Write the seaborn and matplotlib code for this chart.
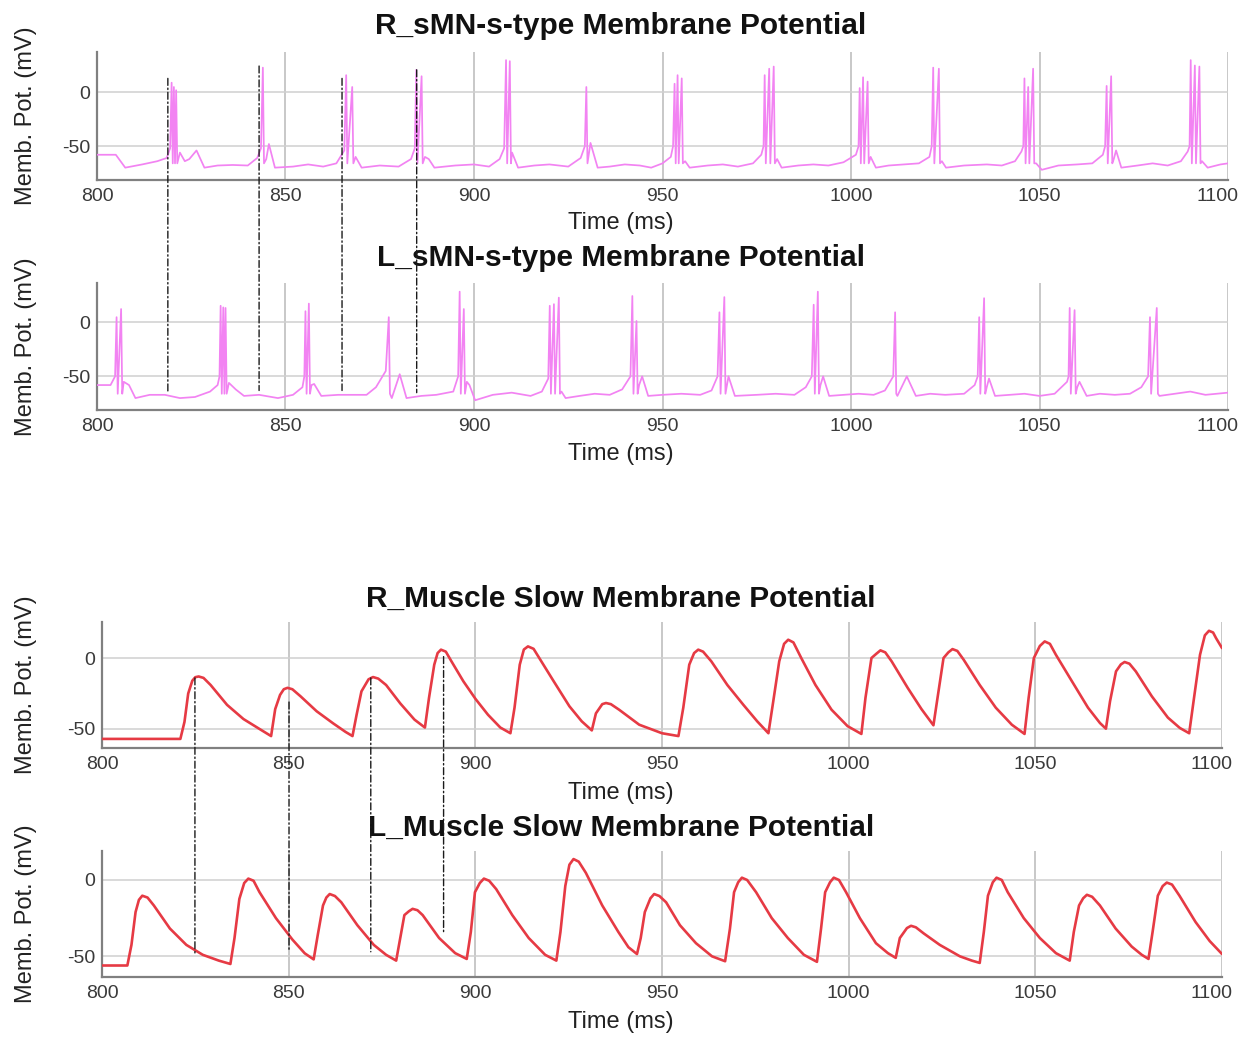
import matplotlib
matplotlib.use("Agg")
import matplotlib.pyplot as plt
from matplotlib.patches import ConnectionPatch
import pandas as pd
import seaborn as sns

# ---------------- data ----------------
TIME_TICKS = [800, 850, 900, 950, 1000, 1050, 1100]
VOLT_TICKS = [-50, 0]

TITLES = ["R_sMN-s-type Membrane Potential", "L_sMN-s-type Membrane Potential",
          "R_Muscle Slow Membrane Potential", "L_Muscle Slow Membrane Potential"]
X_LABEL = "Time (ms)"
Y_LABEL = "Memb. Pot. (mV)"

# motor neuron: sub-threshold trace (time, mV) and spike peaks
R_SMN_BASE_T = [800, 805, 807.5, 812, 816, 818.5, 819.4,
                822.0, 823.3, 824.5, 826.4, 828.5, 832, 836, 840, 842.5, 843.5,
                844.9, 845.6, 847.2, 852, 856, 860, 863.5, 865.6,
                868.6, 870.2, 875, 880, 883.3, 884.3,
                887.0, 888.0, 889.5, 895, 900, 904, 906.8, 908.0,
                910.1, 911.7, 916, 920, 925, 928.3, 929.4,
                930.9, 932.8, 936, 940, 944, 947, 950, 952.2, 952.8,
                956.0, 957.2, 962, 966, 970, 974, 976.2, 976.8,
                980.4, 981.6, 986, 990, 994, 998, 1001.3, 1002.0,
                1005.2, 1006.6, 1010, 1014, 1018, 1020.8, 1021.4,
                1024.1, 1025.2, 1030, 1036, 1040, 1043.5, 1045.2, 1045.7,
                1049.1, 1050.6, 1055, 1060, 1064, 1066.8, 1067.4,
                1069.7, 1070.3, 1071.7, 1076, 1080, 1084, 1087.5, 1089.3, 1089.8,
                1093.1, 1094.6, 1098, 1100]
R_SMN_BASE_V = [-58, -58, -70, -67, -64, -61, -52,
                -56, -64, -62, -54, -70, -68, -67.5, -68, -61, -52,
                -62, -48, -70, -69, -67, -69, -66, -54,
                -60, -70, -68, -69, -62, -52,
                -60, -62, -70, -68, -67, -69, -62, -52,
                -56, -70, -68, -67, -69, -61, -50,
                -47, -70, -69, -67, -68, -70, -66, -60, -50,
                -64, -70, -68, -67, -69, -66, -58, -50,
                -62, -70, -68, -67, -68, -65, -58, -50,
                -60, -70, -68, -67, -66, -60, -50,
                -64, -70, -68, -67, -68, -64, -55, -50,
                -66, -72, -68, -67, -66, -58, -50,
                -62, -54, -70, -68, -66, -68, -64, -55, -50,
                -64, -70, -67, -66]
R_SMN_SPIKE_T = [819.8, 820.4, 821.0, 844.0, 866.1, 867.7, 884.7, 886.1,
                 908.5, 909.5, 929.8, 953.2, 954.0, 955.1, 977.1, 978.3, 979.5,
                 1002.3, 1003.2, 1004.4, 1021.8, 1023.3, 1046.0, 1047.0, 1048.3,
                 1067.8, 1069.0, 1090.1, 1091.2, 1092.4]
R_SMN_SPIKE_V = [9, 5, 2, 23, 16, 5, 21, 15,
                 30, 29, 5, 8, 16, 13, 16, 22, 24,
                 4, 14, 10, 23, 22, 13, 5, 22,
                 6, 15, 30, 25, 24]

L_SMN_BASE_T = [800, 803.6, 804.8,
                807.1, 808.5, 810.2, 814, 818, 822, 826, 830, 832.0, 832.5,
                835.0, 836.8, 839, 843, 848, 852, 854.5, 855.0,
                856.9, 857.6, 859.5, 864, 871.5, 874, 876.6,
                878.2, 880.3, 882.1, 886, 890, 894.5, 895.8,
                898.1, 898.8, 900.3, 905, 910, 915, 918, 919.7,
                923.2, 924.3, 928, 932, 936, 939.3, 941.5,
                943.8, 944.6, 946.2, 950, 955, 960, 963, 964.6,
                967.1, 967.5, 969.2, 975, 980, 985, 988, 989.6,
                991.9, 992.6, 994.2, 998, 1002, 1006, 1009, 1011.2,
                1012.3, 1014.8, 1017.2, 1021, 1025, 1030, 1032.8, 1033.6,
                1036.0, 1036.6, 1038.2, 1042, 1046, 1050, 1054, 1057.3, 1057.7,
                1060.0, 1060.6, 1062.5, 1066, 1070, 1074, 1077, 1078.8,
                1081.8, 1086, 1090, 1094, 1100]
L_SMN_BASE_V = [-58, -58, -50,
                -55, -58, -70, -67, -67, -70, -69, -64, -58, -50,
                -56, -62, -68, -67, -70, -67, -60, -50,
                -58, -57, -68, -67, -67, -60, -45,
                -70, -48, -70, -68, -67, -64, -50,
                -55, -58, -72, -67, -65, -68, -64, -52,
                -64, -70, -68, -66, -67, -62, -50,
                -58, -50, -68, -67, -66, -67, -63, -50,
                -58, -50, -68, -67, -66, -67, -60, -50,
                -58, -50, -68, -67, -66, -67, -63, -50,
                -68, -50, -68, -66, -67, -66, -58, -50,
                -60, -52, -68, -67, -66, -68, -66, -55, -50,
                -60, -55, -68, -66, -67, -66, -60, -50,
                -68, -66, -64, -67, -65]
L_SMN_SPIKE_T = [805.2, 806.4, 832.8, 833.5, 834.1, 855.3, 856.2, 877.4,
                 896.2, 897.3, 920.1, 921.2, 922.5, 942.0, 943.1, 965.1, 966.4,
                 990.1, 991.2, 1011.7, 1034.0, 1035.3, 1058.0, 1059.3, 1079.3, 1081.1]
L_SMN_SPIKE_V = [4.5, 12, 15, 13.5, 13, 10, 17, 4.5,
                 28, 12, 15, 16.5, 22.5, 24, 1, 9, 23,
                 16, 28, 9, 4.5, 22, 13, 11, 4.5, 13]

SPIKE_TROUGH = -66      # mV reached right after each spike
SPIKE_FALL = 0.3        # ms from spike peak to trough

# slow muscle fibres: (time, mV)
R_MUSCLE_T = [800, 821.0, 822.1, 823.1, 824.2, 825.0, 825.9, 827.2, 829.1, 833.5, 837.9, 842.2, 845.3,
              846.4, 847.7, 848.7, 849.7, 851.0, 853.2, 857.5, 861.9, 865.2, 867.1,
              868.2, 869.5, 871.4, 872.6, 874.0, 876.1, 879.9, 883.7, 886.5,
              887.6, 889.0, 889.9, 890.8, 892.1, 893.6, 896.8, 900.1, 903.4, 906.7, 909.4,
              910.5, 911.9, 913.0, 914.1, 915.6, 917.6, 920.9, 925.2, 928.5, 931.2,
              932.3, 934.0, 935.0, 936.3, 938.5, 943.9, 950.0, 954.4,
              955.7, 957.3, 958.6, 959.7, 961.0, 963.2, 967.5, 971.8, 975.5, 978.5,
              979.8, 981.4, 982.7, 983.8, 985.2, 987.3, 991.1, 995.4, 999.7, 1003.4,
              1004.5, 1006.1, 1007.4, 1008.5, 1009.8, 1011.5, 1015.8, 1019.5, 1022.7,
              1023.8, 1025.4, 1026.7, 1027.8, 1029.1, 1030.8, 1035.1, 1039.4, 1043.7, 1047.1,
              1048.2, 1049.6, 1051.2, 1052.5, 1053.9, 1055.5, 1059.8, 1064.1, 1067.3, 1068.9,
              1070.0, 1071.6, 1072.9, 1073.9, 1075.2, 1076.9, 1081.2, 1085.5, 1088.7, 1091.2,
              1092.5, 1094.1, 1095.4, 1096.5, 1097.6, 1098.4, 1100.0]
R_MUSCLE_V = [-57, -57, -45, -25, -16, -13.5, -13, -14, -19, -33, -43, -50, -55,
              -36, -26, -22, -21, -22, -27, -37.5, -46, -52, -55,
              -40, -23.5, -15, -13.4, -14.5, -19, -32, -43.4, -49,
              -28, -4.7, 3.5, 5.9, 4.5, -2.3, -16.4, -29, -40, -49, -53,
              -35, -4.7, 6, 8.2, 6.5, -2, -16, -34, -44.6, -51,
              -39, -32.5, -31.7, -32.5, -36.4, -47, -53, -55,
              -35, -4.7, 3.5, 5.9, 4.5, -2.3, -19, -33, -44.6, -53,
              -30.5, -2.3, 10, 12.9, 11, 0, -19, -36.4, -48, -53.5,
              -28, 0, 3, 5.4, 4, -2.3, -21, -36, -47.4,
              -28, 0, 4, 6.3, 5, -1.2, -19, -35, -47, -53.5,
              -28, 0, 8.5, 11.7, 10, 2.3, -16.4, -35, -45.8, -49.8,
              -30.5, -9.4, -4.5, -2.8, -4, -9.4, -27, -42, -49.3, -53,
              -28, 2.3, 16, 19.2, 18, 14, 7]

L_MUSCLE_T = [800, 806.8, 807.9, 809.0, 809.9, 810.8, 812.2, 813.9, 818.2, 822.6, 827.0, 831.3, 834.4,
              835.5, 836.8, 838.1, 839.2, 840.6, 842.2, 846.6, 851.0, 854.3, 856.7,
              857.8, 859.2, 860.1, 861.0, 862.4, 864.1, 868.4, 872.8, 876.1, 878.8,
              879.9, 881.0, 882.2, 883.2, 884.5, 885.9, 890.3, 894.6, 897.7,
              898.8, 899.9, 901.2, 902.3, 903.7, 905.6, 909.9, 914.3, 918.7, 921.7,
              922.8, 924.1, 925.2, 926.3, 927.7, 929.6, 934.0, 938.3, 941.0, 943.3,
              944.3, 945.4, 946.9, 947.9, 949.3, 951.1, 954.8, 959.1, 963.4, 966.9,
              968.2, 969.3, 970.4, 971.4, 972.8, 975.2, 979.4, 983.7, 988.0, 991.5,
              992.6, 993.7, 995.0, 996.0, 997.4, 999.3, 1003.0, 1007.3, 1010.5, 1012.6,
              1013.7, 1015.6, 1016.7, 1018.0, 1020.1, 1024.4, 1029.8, 1033.0, 1035.1,
              1036.2, 1037.3, 1038.6, 1039.6, 1041.0, 1042.6, 1046.9, 1051.2, 1055.5, 1059.2,
              1060.3, 1061.7, 1062.8, 1063.8, 1065.2, 1067.3, 1071.5, 1075.8, 1078.5, 1080.3,
              1081.4, 1082.8, 1084.1, 1085.2, 1086.6, 1088.6, 1092.9, 1096.7, 1100.0]
L_MUSCLE_V = [-56, -56, -42.5, -21, -13, -10.3, -11.5, -16.7, -31.8, -42.5, -49, -52.8, -55,
              -38, -12.4, -2, 0.9, -0.5, -8, -25, -39, -48, -52,
              -36, -16.7, -11.5, -9.2, -10.5, -14.6, -29.6, -42.5, -49, -52.8,
              -38, -23, -20.5, -18.9, -19.8, -23, -38, -47.9, -51.7,
              -34, -8, -2, 0.9, -0.5, -6, -23, -38, -49, -52.8,
              -34, -3.9, 10, 13.7, 12, 4.7, -16.7, -34, -44, -48.5,
              -38, -21, -12, -9.2, -10.5, -14.6, -29.6, -41.4, -50, -53.2,
              -31.8, -8, -1.5, 1.5, 0, -8, -25, -38, -49, -53.6,
              -31.8, -8, -1.5, 1.5, 0, -8, -25, -41.4, -47.9, -51,
              -38, -31.5, -30, -31, -35, -42.5, -50, -52.8, -54.3,
              -34, -10.3, -1.5, 1.5, 0, -8, -25, -38, -47.9, -52.8,
              -34, -16.7, -12, -9.7, -11, -16.7, -31.8, -43.6, -49, -51.7,
              -34, -10.3, -4, -1.7, -3, -10.3, -27.5, -40, -48.5]

# dash-dot alignment markers: time, mV at upper panel, mV at lower panel
SMN_MARK_T = [818.8, 843.0, 865.0, 884.8]
SMN_MARK_TOP = [13, 24.5, 13, 21]
SMN_MARK_BOTTOM = [-64, -63, -63, -65]
MUSCLE_MARK_T = [824.9, 850.1, 872.0, 891.5]
MUSCLE_MARK_TOP = [-14, -31, -14, 1]
MUSCLE_MARK_BOTTOM = [-48, -46, -47, -35]


def neuron_frame(base_t, base_v, spike_t, spike_v):
    """Merge the sub-threshold trace with the spike peaks and their troughs."""
    rows = list(zip(base_t, base_v))
    for t, v in zip(spike_t, spike_v):
        rows.append((t, v))
        rows.append((t + SPIKE_FALL, SPIKE_TROUGH))
    return pd.DataFrame(rows, columns=["t", "v"]).sort_values("t")


# ---------------- styling ----------------
sns.set_style("white")
plt.rcParams["font.family"] = ["Liberation Sans", "DejaVu Sans"]

NEURON_COLOR = "#f283f2"
MUSCLE_COLOR = "#e63a44"
TICK_FONT = ["Liberation Sans Narrow", "Liberation Sans", "DejaVu Sans"]
TICK_SIZE = 14
TICK_COLOR = "#3a3a3a"
TICK_PAD = 6
FIG_W = 1248

fig = plt.figure(figsize=(12.48, 10.37), dpi=100)

panels = [
    dict(rect=[0.0777, 0.8264, 0.9063, 0.1234], ylim=(-81.5, 37.5),
         df=neuron_frame(R_SMN_BASE_T, R_SMN_BASE_V, R_SMN_SPIKE_T, R_SMN_SPIKE_V),
         color=NEURON_COLOR, lw=1.25, pad=13, xlab_y=-0.25),
    dict(rect=[0.0777, 0.6046, 0.9063, 0.1225], ylim=(-81, 36),
         df=neuron_frame(L_SMN_BASE_T, L_SMN_BASE_V, L_SMN_SPIKE_T, L_SMN_SPIKE_V),
         color=NEURON_COLOR, lw=1.25, pad=12, xlab_y=-0.26),
    dict(rect=[0.0817, 0.2787, 0.8975, 0.1215], ylim=(-63.4, 25.4),
         df=pd.DataFrame({"t": R_MUSCLE_T, "v": R_MUSCLE_V}),
         color=MUSCLE_COLOR, lw=1.9, pad=11, xlab_y=-0.27),
    dict(rect=[0.0817, 0.0579, 0.8975, 0.1215], ylim=(-63.5, 19),
         df=pd.DataFrame({"t": L_MUSCLE_T, "v": L_MUSCLE_V}),
         color=MUSCLE_COLOR, lw=1.9, pad=11, xlab_y=-0.27),
]

axes = []
for i, p in enumerate(panels):
    ax = fig.add_axes(p["rect"])
    sns.lineplot(data=p["df"], x="t", y="v", ax=ax, color=p["color"],
                 linewidth=p["lw"], estimator=None, sort=False, zorder=3)
    ax.set_xlim(TIME_TICKS[0], TIME_TICKS[-1])
    ax.set_ylim(*p["ylim"])
    ax.set_xticks(TIME_TICKS)
    ax.set_yticks(VOLT_TICKS)
    # the last time label sits slightly inside the right edge
    ax.set_xticklabels([str(t) for t in TIME_TICKS[:-1]] + [""])
    ax.set_yticklabels([str(v) for v in VOLT_TICKS])
    ax.annotate(str(TIME_TICKS[-1]), xy=(TIME_TICKS[-1], 0),
                xycoords=ax.get_xaxis_transform(), xytext=(-7.5, -TICK_PAD),
                textcoords="offset points", ha="center", va="top",
                fontsize=TICK_SIZE, color=TICK_COLOR, family=TICK_FONT,
                annotation_clip=False)
    ax.set_axisbelow(True)
    ax.xaxis.grid(True, color="#b9b9b9", linewidth=1.1)
    ax.yaxis.grid(True, color="#d0d0d0", linewidth=1.1)
    for side in ("top", "right"):
        ax.spines[side].set_visible(False)
    for side in ("left", "bottom"):
        ax.spines[side].set_color("#808080")
        ax.spines[side].set_linewidth(1.6)
    ax.tick_params(axis="both", length=0, labelsize=TICK_SIZE, labelcolor=TICK_COLOR)
    ax.tick_params(axis="x", pad=TICK_PAD)
    ax.tick_params(axis="y", pad=5)
    for lab in ax.get_xticklabels() + ax.get_yticklabels():
        lab.set_family(TICK_FONT)
    left_px = p["rect"][0] * FIG_W
    width_px = p["rect"][2] * FIG_W
    center_x = (621 - left_px) / width_px
    ax.set_xlabel(X_LABEL, fontsize=17, color="#222222")
    ax.xaxis.set_label_coords(center_x, p["xlab_y"])
    ax.set_ylabel(Y_LABEL, fontsize=17, color="#222222")
    ax.yaxis.set_label_coords((37 - left_px) / width_px, 0.5)
    ax.set_title(TITLES[i], fontsize=21.5, fontweight="bold", color="#111111",
                 pad=p["pad"], x=center_x)
    axes.append(ax)


def draw_marks(ax_top, ax_bottom, ts, tops, bottoms):
    for t, y0, y1 in zip(ts, tops, bottoms):
        con = ConnectionPatch(xyA=(t, y0), coordsA=ax_top.transData,
                              xyB=(t, y1), coordsB=ax_bottom.transData,
                              color="#1a1a1a", linewidth=1.0,
                              linestyle=(0, (5, 2, 1, 2)), zorder=10)
        fig.add_artist(con)


draw_marks(axes[0], axes[1], SMN_MARK_T, SMN_MARK_TOP, SMN_MARK_BOTTOM)
draw_marks(axes[2], axes[3], MUSCLE_MARK_T, MUSCLE_MARK_TOP, MUSCLE_MARK_BOTTOM)

fig.savefig("out.png", dpi=100)
